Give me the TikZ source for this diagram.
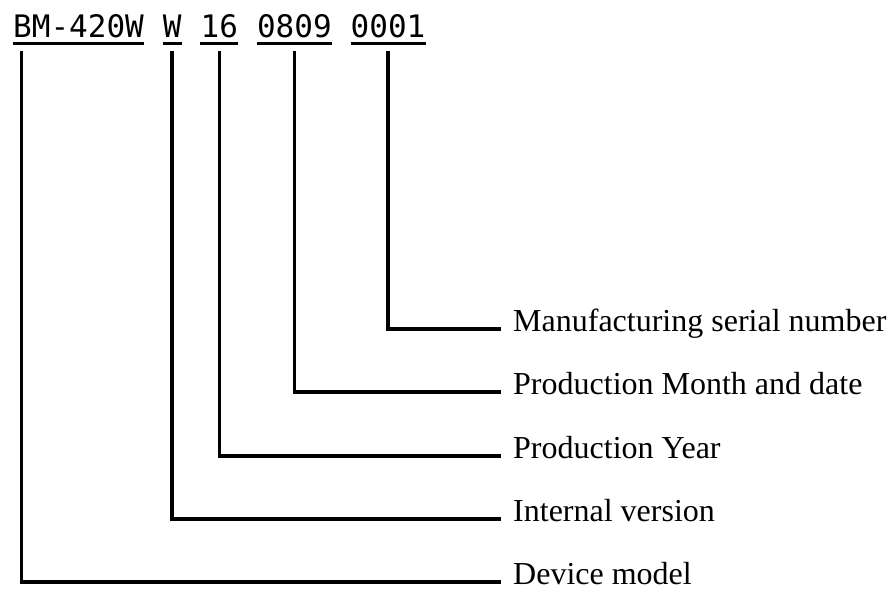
\documentclass[tikz,border=0pt]{standalone}
\usepackage{fontspec}
\setmainfont{Liberation Serif}
\newfontfamily\codefont{DejaVu Sans Mono}
\usetikzlibrary{positioning}

\begin{document}
\begin{tikzpicture}[x=1pt,y=1pt,
    code/.style={anchor=base west, inner sep=0pt, font=\codefont\fontsize{31}{36}\selectfont},
    lbl/.style={anchor=mid west, inner xsep=12pt, inner ysep=0pt, font=\fontsize{32}{38}\selectfont},
    uline/.style={line width=2.5pt},
    conn/.style={line width=3.5pt}]
    % Define the gaps
    \def\charWidth{18.66pt} % One character of the code font
    \def\lineDrop{-13.5pt} % Start of the connectors below the baseline
    \def\labelX{501} % X part of the label column

    \useasboundingbox (0,0) rectangle (894,-592);

  % Draw the groups of the serial number
  \node[code] (model) at (13,-37) {BM-420W};
  \node[code, base right=\charWidth of model] (ver) {W};
  \node[code, base right=\charWidth of ver] (year) {16};
  \node[code, base right=\charWidth of year] (date) {0809};
  \node[code, base right=\charWidth of date] (serial) {0001};

  % Underline every group
    \foreach \g in {model,ver,year,date,serial}
        \draw[uline] ([yshift=-6.5pt]\g.base west) -- ([yshift=-6.5pt]\g.base east);

  % Place the labels
  \node[lbl] (serialLbl) at (\labelX,-329) {Manufacturing serial number};
  \node[lbl] (dateLbl) at (\labelX,-392) {Production Month and date};
  \node[lbl] (yearLbl) at (\labelX,-456) {Production Year};
  \node[lbl] (verLbl) at (\labelX,-519) {Internal version};
  \node[lbl] (modelLbl) at (\labelX,-582) {Device model};

  % Draw the connectors
  \draw[conn] ([yshift=\lineDrop]serial.base) |- (serialLbl.mid west);
  \draw[conn] ([yshift=\lineDrop]date.base) |- (dateLbl.mid west);
  \draw[conn] ([yshift=\lineDrop]year.base) |- (yearLbl.mid west);
  \draw[conn] ([yshift=\lineDrop]ver.base) |- (verLbl.mid west);
  \draw[conn] ([xshift=8.5pt,yshift=\lineDrop]model.base west) |- (modelLbl.mid west);

\end{tikzpicture}
\end{document}
